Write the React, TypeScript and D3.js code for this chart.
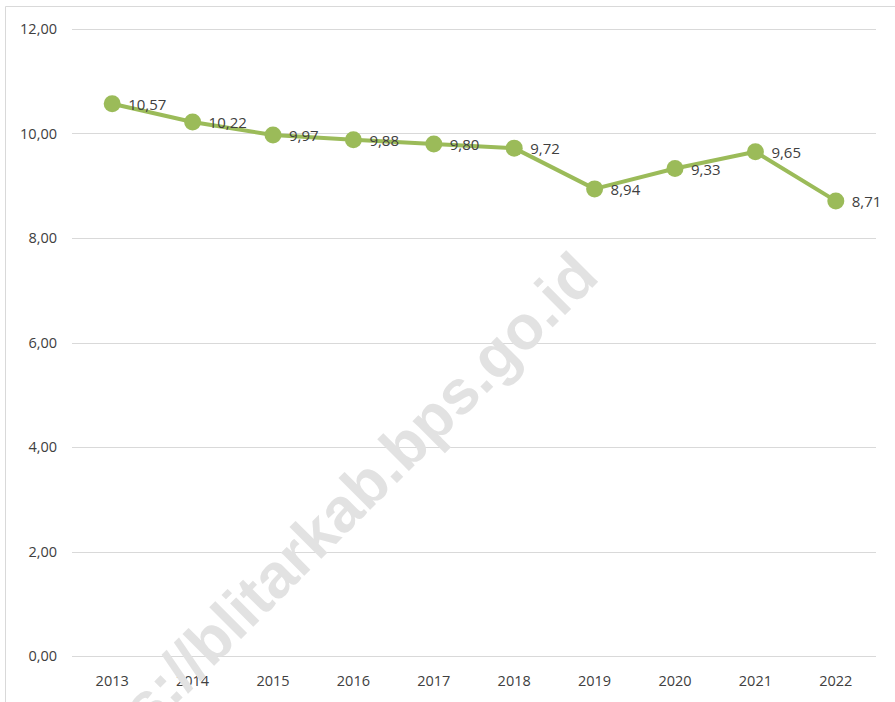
import { useEffect, useRef } from "react";
import * as d3 from "d3";

// Years and values
const years = ["2013", "2014", "2015", "2016", "2017", "2018", "2019", "2020", "2021", "2022"];
const values = [10.57, 10.22, 9.97, 9.88, 9.8, 9.72, 8.94, 9.33, 9.65, 8.71];
const yTicks = [0, 2, 4, 6, 8, 10, 12];

const W = 895;
const H = 702;
const FONT = "'Open Sans', 'Noto Sans', sans-serif";
const GREEN = "#9bbb59";
const TEXT = "#404040";

const comma = (v: number) => d3.format(".2f")(v).replace(".", ",");

export default function App() {
  const svgRef = useRef<SVGSVGElement>(null);

  useEffect(() => {
    const svg = d3.select(svgRef.current);
    svg.selectAll("*").remove();

    const margin = { top: 29, right: 19, bottom: 46, left: 72 };
    const innerW = W - margin.left - margin.right;
    const innerH = H - margin.top - margin.bottom;

    // chart frame (only top and left edges visible in the crop)
    svg.append("path")
      .attr("d", `M5.5,${H} L5.5,6.5 L${W},6.5`)
      .attr("fill", "none")
      .attr("stroke", "#d9d9d9")
      .attr("stroke-width", 1);

    const g = svg.append("g").attr("transform", `translate(${margin.left},${margin.top})`);

    const x = d3.scaleBand().domain(years).range([0, innerW]);
    const y = d3.scaleLinear().domain([0, 12]).range([innerH, 0]);

    // gridlines
    g.selectAll("line.grid")
      .data(yTicks)
      .enter()
      .append("line")
      .attr("class", "grid")
      .attr("x1", 0)
      .attr("x2", innerW)
      .attr("y1", d => Math.round(y(d)) + 0.5)
      .attr("y2", d => Math.round(y(d)) + 0.5)
      .attr("stroke", "#d9d9d9")
      .attr("stroke-width", 1);

    // watermark (runs off the bottom edge, as in the source image)
    svg.append("text")
      .attr("transform", "translate(333,547) rotate(-45)")
      .attr("text-anchor", "middle")
      .attr("font-family", "'Liberation Sans', Arial, sans-serif")
      .attr("font-weight", "bold")
      .attr("font-size", "62px")
      .attr("fill", "#e2e2e2")
      .text("https://blitarkab.bps.go.id");

    // y tick labels
    g.selectAll("text.ytick")
      .data(yTicks)
      .enter()
      .append("text")
      .attr("class", "ytick")
      .attr("x", -15)
      .attr("y", d => y(d))
      .attr("dy", "0.35em")
      .attr("text-anchor", "end")
      .attr("font-family", FONT)
      .attr("font-size", "14.5px")
      .attr("fill", TEXT)
      .text(d => comma(d));

    // x tick labels
    g.selectAll("text.xtick")
      .data(years)
      .enter()
      .append("text")
      .attr("class", "xtick")
      .attr("x", d => (x(d) as number) + x.bandwidth() / 2)
      .attr("y", innerH + 25)
      .attr("dy", "0.35em")
      .attr("text-anchor", "middle")
      .attr("font-family", FONT)
      .attr("font-size", "14.5px")
      .attr("fill", TEXT)
      .text(d => d);

    const cx = (i: number) => (x(years[i]) as number) + x.bandwidth() / 2;

    // line
    const line = d3.line<number>()
      .x((_, i) => cx(i))
      .y(d => y(d));

    g.append("path")
      .datum(values)
      .attr("d", line)
      .attr("fill", "none")
      .attr("stroke", GREEN)
      .attr("stroke-width", 4)
      .attr("stroke-linejoin", "round");

    // markers
    g.selectAll("circle")
      .data(values)
      .enter()
      .append("circle")
      .attr("cx", (_, i) => cx(i))
      .attr("cy", d => y(d))
      .attr("r", 8.5)
      .attr("fill", GREEN);

    // data labels
    g.selectAll("text.label")
      .data(values)
      .enter()
      .append("text")
      .attr("class", "label")
      .attr("x", (_, i) => cx(i) + 16)
      .attr("y", d => y(d) + 1)
      .attr("dy", "0.35em")
      .attr("font-family", FONT)
      .attr("font-size", "15px")
      .attr("fill", TEXT)
      .text(d => comma(d));
  }, []);

  return (
    <svg
      ref={svgRef}
      width={W}
      height={H}
      style={{ position: "absolute", left: 0, top: 0, display: "block", background: "#fff" }}
    />
  );
}
